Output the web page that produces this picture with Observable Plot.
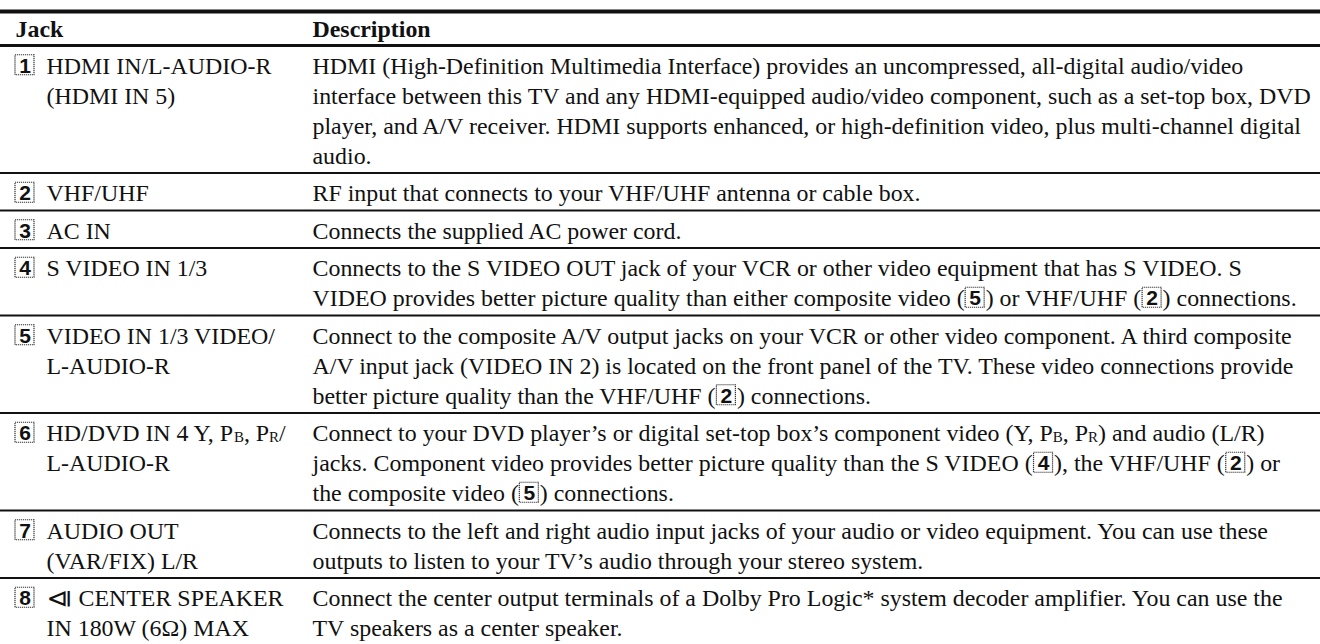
<!DOCTYPE html>
<html><head><meta charset="utf-8">
<script src="https://cdn.jsdelivr.net/npm/d3@7"></script>
<script src="https://cdn.jsdelivr.net/npm/@observablehq/plot@0.6"></script>
<style>body{margin:0;background:#fff}</style>
</head><body><div id="chart"></div>
<script>
// ---- data ----
const headers = ["Jack", "Description"];
const jackNumbers = ["1", "2", "3", "4", "5", "6", "7", "8"];
const jackLabels = [
  ["HDMI IN/L-AUDIO-R", "(HDMI IN 5)"],
  ["VHF/UHF"],
  ["AC IN"],
  ["S VIDEO IN 1/3"],
  ["VIDEO IN 1/3 VIDEO/", "L-AUDIO-R"],
  ["HD/DVD IN 4 Y, P{B}, P{R}/", "L-AUDIO-R"],
  ["AUDIO OUT", "(VAR/FIX) L/R"],
  ["{S} CENTER SPEAKER", "IN 180W (6Ω) MAX"]
];
const descriptions = [
  ["HDMI (High-Definition Multimedia Interface) provides an uncompressed, all-digital audio/video",
   "interface between this TV and any HDMI-equipped audio/video component, such as a set-top box, DVD",
   "player, and A/V receiver. HDMI supports enhanced, or high-definition video, plus multi-channel digital",
   "audio."],
  ["RF input that connects to your VHF/UHF antenna or cable box."],
  ["Connects the supplied AC power cord."],
  ["Connects to the S VIDEO OUT jack of your VCR or other video equipment that has S VIDEO. S",
   "VIDEO provides better picture quality than either composite video ([5]) or VHF/UHF ([2]) connections."],
  ["Connect to the composite A/V output jacks on your VCR or other video component. A third composite",
   "A/V input jack (VIDEO IN 2) is located on the front panel of the TV. These video connections provide",
   "better picture quality than the VHF/UHF ([2]) connections."],
  ["Connect to your DVD player’s or digital set-top box’s component video (Y, P{B}, P{R}) and audio (L/R)",
   "jacks. Component video provides better picture quality than the S VIDEO ([4]), the VHF/UHF ([2]) or",
   "the composite video ([5]) connections."],
  ["Connects to the left and right audio input jacks of your audio or video equipment. You can use these",
   "outputs to listen to your TV’s audio through your stereo system."],
  ["Connect the center output terminals of a Dolby Pro Logic* system decoder amplifier. You can use the",
   "TV speakers as a center speaker."]
];

// ---- layout ----
const W = 1320, H = 644;
const SERIF = "'Liberation Serif', 'Times New Roman', serif";
const SANS = "'Liberation Sans', Arial, sans-serif";
const FS = 23.9, SMALL = 15, BOXFS = 21;
const LINE = 30, PAD = 7.5;
const colX = [15, 312], jackTextX = 46;
const topRuleY = 11, headerRuleY = 45, headerY = 29;
const BOXW = 19, BOXH = 20;

const ctx = document.createElement("canvas").getContext("2d");
function measure(t, size, weight = "normal", fam = SERIF) {
  ctx.font = `${weight} ${size}px ${fam}`;
  return ctx.measureText(t).width;
}

const texts = [], smalls = [], bolds = [], boxes = [], boxNums = [], icons = [], rules = [];
rules.push({y: topRuleY, w: 4});
rules.push({y: headerRuleY, w: 3});
headers.forEach((h, i) => bolds.push({x: colX[i], y: headerY, text: h}));

function layLine(str, x0, cy) {
  let x = x0;
  const re = /\[(\d)\]|\{([A-Z])\}/g;
  let last = 0, m;
  const pushText = t => { if (t) { texts.push({x, y: cy, text: t}); x += measure(t, FS); } };
  while ((m = re.exec(str))) {
    pushText(str.slice(last, m.index));
    if (m[1]) {
      x += 1;
      boxes.push({x1: x, x2: x + BOXW, y1: cy - BOXH / 2 - 1, y2: cy + BOXH / 2 - 1});
      boxNums.push({x: x + BOXW / 2, y: cy, text: m[1]});
      x += BOXW + 1;
    } else if (m[2] === "S") {
      icons.push({x, y: cy, text: "⧏"});
      x += 26;
    } else {
      smalls.push({x, y: cy + 3, text: m[2]});
      x += measure(m[2], SMALL);
    }
    last = re.lastIndex;
  }
  pushText(str.slice(last));
}

let rowTop = headerRuleY;
jackNumbers.forEach((num, r) => {
  const n = Math.max(jackLabels[r].length, descriptions[r].length);
  const c0 = rowTop + PAD / 2 + LINE / 2 + 2;
  boxes.push({x1: colX[0], x2: colX[0] + BOXW, y1: c0 - BOXH / 2 - 1, y2: c0 + BOXH / 2 - 1});
  boxNums.push({x: colX[0] + BOXW / 2, y: c0, text: num});
  jackLabels[r].forEach((t, i) => layLine(t, jackTextX, c0 + i * LINE));
  descriptions[r].forEach((t, i) => layLine(t, colX[1], c0 + i * LINE));
  rowTop += n * LINE + PAD;
  if (r < jackNumbers.length - 1) rules.push({y: rowTop, w: 2});
});

const chart = Plot.plot({
  width: W, height: H, margin: 0,
  x: {type: "identity"}, y: {type: "identity"},
  style: {background: "#fff"},
  marks: [
    Plot.ruleY(rules, {y: "y", x1: 0, x2: W, strokeWidth: "w", stroke: "#111"}),
    Plot.rect(boxes, {x1: "x1", x2: "x2", y1: "y1", y2: "y2", fill: "#fff", stroke: "#333", strokeWidth: 1.2, strokeDasharray: "1.2,0.8"}),
    Plot.text(boxNums, {x: "x", y: "y", text: "text", fontFamily: SANS, fontSize: BOXFS, fontWeight: "bold", fill: "#111", textAnchor: "middle"}),
    Plot.text(bolds, {x: "x", y: "y", text: "text", fontFamily: SERIF, fontSize: FS, fontWeight: "bold", fill: "#111", textAnchor: "start"}),
    Plot.text(texts, {x: "x", y: "y", text: "text", fontFamily: SERIF, fontSize: FS, fill: "#111", textAnchor: "start"}),
    Plot.text(smalls, {x: "x", y: "y", text: "text", fontFamily: SERIF, fontSize: SMALL, fill: "#111", textAnchor: "start"}),
    Plot.text(icons, {x: "x", y: "y", text: "text", fontFamily: "'DejaVu Sans'", fontSize: 26, fill: "#111", textAnchor: "start"})
  ]
});
document.getElementById("chart").append(chart);
</script>
</body></html>
